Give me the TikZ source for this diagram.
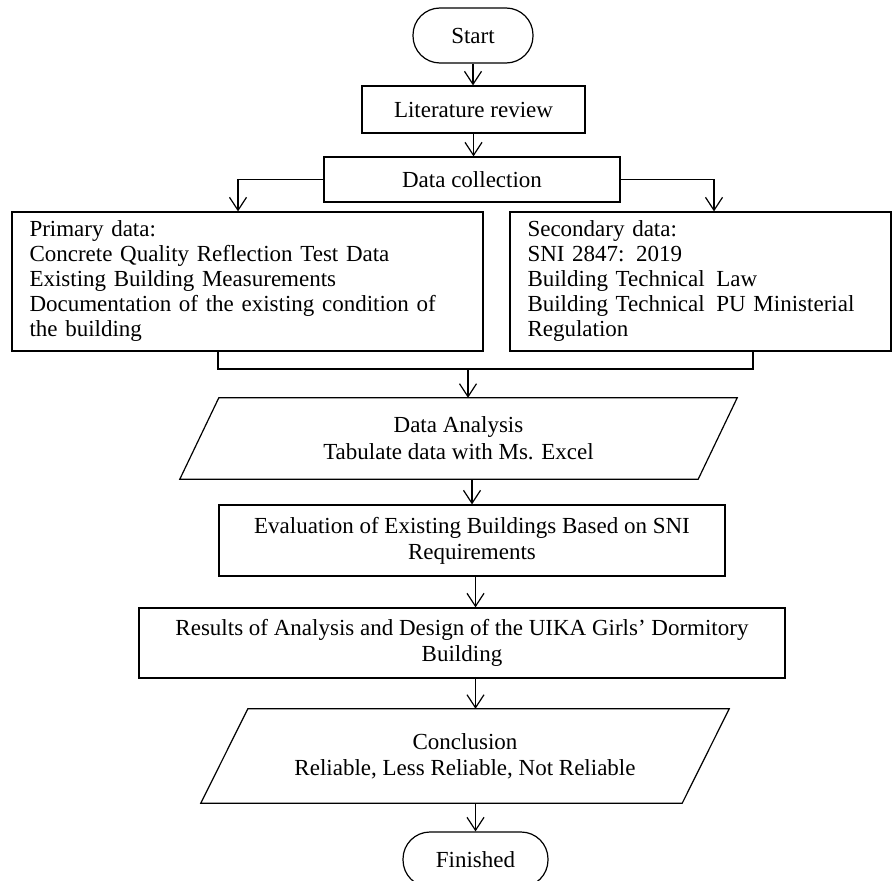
\documentclass[tikz,border=0pt]{standalone}
\usepackage{fontspec}
\setmainfont{Liberation Serif}
\usetikzlibrary{arrows.meta,calc}
\begin{document}
\begin{tikzpicture}[x=1pt,y=-1pt,
  every node/.style={font=\fontsize{23}{25}\selectfont, text=black},
  box/.style={draw, line width=1.2pt, rectangle, inner sep=0pt, align=center},
  term/.style={draw, line width=1.2pt, rectangle, rounded corners=27pt, inner sep=0pt},
  pbox/.style={rectangle, inner sep=0pt, align=center},
  listbox/.style={draw, line width=1.2pt, rectangle, inner xsep=17.5pt, inner ysep=0pt, align=left},
  conn/.style={line width=1.2pt},
  arr/.style={line width=1.2pt, -{Straight Barb[length=13pt,width=17pt]}},
]
\useasboundingbox (0,0) rectangle (893,880);
\clip (0,0) rectangle (893,880);
\fill[white] (0,0) rectangle (893,880);

\node[term, minimum width=120pt, minimum height=55pt] (start) at (473,35.5) {Start};
\node[box, minimum width=223pt, minimum height=47pt] (lit) at (473.5,109.5) {Literature review};
\node[box, minimum width=296pt, minimum height=45pt] (dc) at (472,179.5) {Data collection};
\node[listbox, text width=436pt, minimum width=471pt, minimum height=139pt] (prim) at (247.5,281.5)
  {Primary data:\\
   Concrete Quality Reflection Test Data\\
   Existing Building Measurements\\
   Documentation of the existing condition of\\
   the building};
\node[listbox, text width=346pt, minimum width=381pt, minimum height=139pt] (sec) at (700.5,281.5)
  {Secondary data:\\
   SNI 2847: 2019\\
   Building Technical\hspace{4pt} Law\\
   Building Technical\hspace{4pt} PU Ministerial\\
   Regulation};
\node[pbox, minimum width=518pt, minimum height=81pt, font=\fontsize{23}{27}\selectfont] (da) at (458.5,438.5)
  {Data Analysis\\Tabulate data with Ms. Excel};
\draw[conn] ([xshift=19.5pt]da.north west) -- ([xshift=19.5pt]da.north east)
  -- ([xshift=-19.5pt]da.south east) -- ([xshift=-19.5pt]da.south west) -- cycle;
\node[box, minimum width=506pt, minimum height=71pt, font=\fontsize{23}{26}\selectfont] (eval) at (472,540.5)
  {Evaluation of Existing Buildings Based on SNI\\Requirements};
\node[box, minimum width=646pt, minimum height=70pt, font=\fontsize{23}{26}\selectfont] (res) at (462,643)
  {Results of Analysis and Design of the UIKA Girls' Dormitory\\Building};
\node[pbox, minimum width=481pt, minimum height=94pt, font=\fontsize{23}{26}\selectfont] (con) at (465,756)
  {Conclusion\\Reliable, Less Reliable, Not Reliable};
\draw[conn] ([xshift=23.5pt]con.north west) -- ([xshift=23.5pt]con.north east)
  -- ([xshift=-23.5pt]con.south east) -- ([xshift=-23.5pt]con.south west) -- cycle;
\node[term, minimum width=145pt, minimum height=55pt] (fin) at (475.5,859.5) {Finished};

\draw[arr] (start.south) -- (start.south |- lit.north);
\draw[arr] (lit.south) -- (lit.south |- dc.north);
\draw[arr] (dc.west) -| ([xshift=-9.5pt]prim.north);
\draw[arr] (dc.east) -| ([xshift=13.5pt]sec.north);
\coordinate (mc) at (468,369);
\draw[conn] ([xshift=-29.5pt]prim.south) |- (mc) -| ([xshift=52.5pt]sec.south);
\draw[arr] (mc) -- (mc |- da.north);
\draw[arr] (eval.north |- da.south) -- (eval.north);
\draw[arr] (fin.north |- eval.south) -- (fin.north |- res.north);
\draw[arr] (fin.north |- res.south) -- (fin.north |- con.north);
\draw[arr] (fin.north |- con.south) -- (fin.north);
\end{tikzpicture}
\end{document}
